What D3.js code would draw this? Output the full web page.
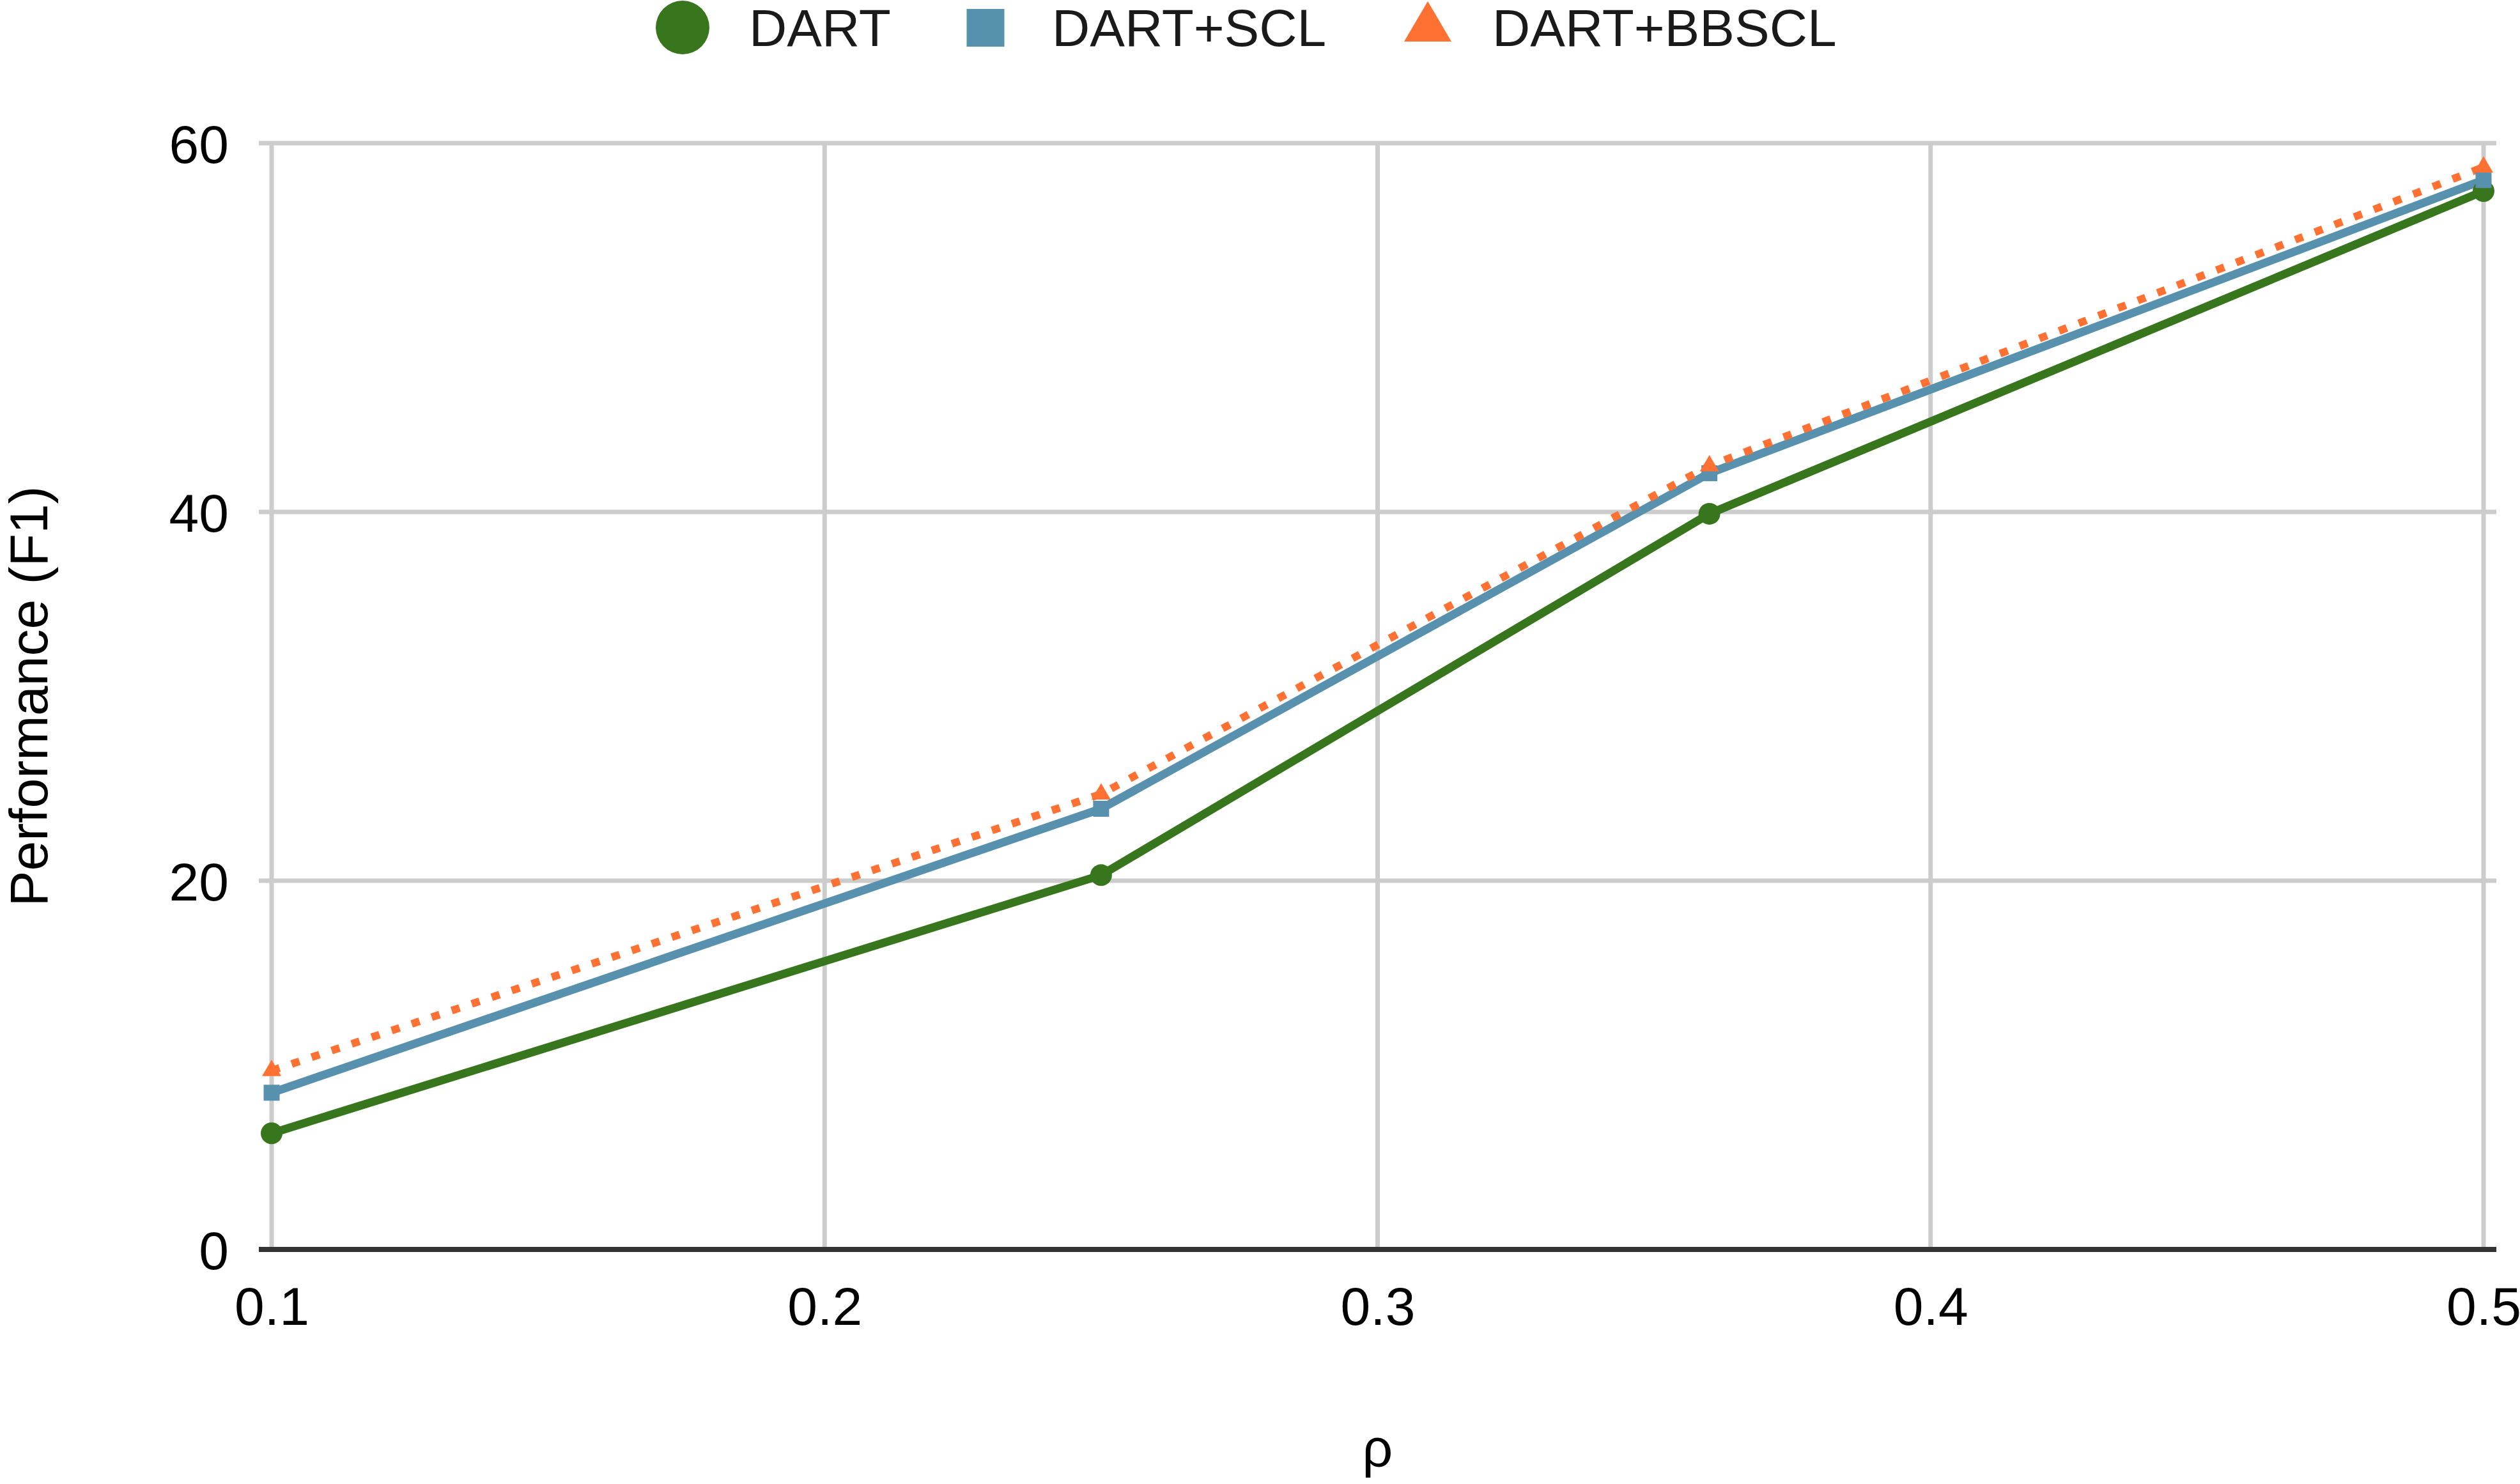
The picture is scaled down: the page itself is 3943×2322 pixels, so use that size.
<!DOCTYPE html>
<html>
<head>
<meta charset="utf-8">
<script src="https://cdn.jsdelivr.net/npm/d3@7"></script>
<style>
  html, body { margin: 0; padding: 0; background: #fff; }
  svg { display: block; font-family: "Liberation Sans", Arial, sans-serif; }
</style>
</head>
<body>
<div id="chart"></div>
<script>
// data
const rho = [0.1, 0.25, 0.36, 0.5];
const dart = [6.3, 20.3, 39.9, 57.4];
const dartScl = [8.5, 23.9, 42.1, 58.0];
const dartBbscl = [9.7, 24.7, 42.5, 58.7];
const seriesNames = ["DART", "DART+SCL", "DART+BBSCL"];
const xTicks = [0.1, 0.2, 0.3, 0.4, 0.5];
const yTicks = [0, 20, 40, 60];

const svgWidth = 3943, svgHeight = 2322;
const colors = ["#38761d", "#5891ad", "#ff7033"];

let svg = d3.select("#chart").append("svg")
    .attr("width", svgWidth)
    .attr("height", svgHeight);

let xScale = d3.scaleLinear().domain([0.1, 0.5]).range([425, 3886]);
let yScale = d3.scaleLinear().domain([0, 60]).range([1955, 224]);
const gridPad = 20;

// horizontal gridlines
svg.append("g").selectAll("line")
    .data(yTicks.filter(d => d !== 0))
    .join("line")
    .attr("x1", xScale.range()[0] - gridPad)
    .attr("x2", xScale.range()[1] + gridPad)
    .attr("y1", d => yScale(d))
    .attr("y2", d => yScale(d))
    .attr("stroke", "#cccccc")
    .attr("stroke-width", 7);

// vertical gridlines
svg.append("g").selectAll("line")
    .data(xTicks)
    .join("line")
    .attr("x1", d => xScale(d))
    .attr("x2", d => xScale(d))
    .attr("y1", yScale(60))
    .attr("y2", yScale(0))
    .attr("stroke", "#cccccc")
    .attr("stroke-width", 7);

// baseline
svg.append("line")
    .attr("x1", xScale.range()[0] - gridPad)
    .attr("x2", xScale.range()[1] + gridPad)
    .attr("y1", yScale(0))
    .attr("y2", yScale(0))
    .attr("stroke", "#333333")
    .attr("stroke-width", 8);

// axes (labels only)
let xAxis = svg.append("g")
    .attr("transform", `translate(0, ${yScale(0)})`)
    .call(d3.axisBottom(xScale).tickValues(xTicks).tickSize(0).tickPadding(0).tickFormat(d3.format(".1f")));
xAxis.select(".domain").remove();
xAxis.selectAll("text")
    .attr("y", 118)
    .attr("dy", null)
    .attr("font-size", 84)
    .attr("font-family", "Liberation Sans, Arial, sans-serif")
    .attr("fill", "#000");

let yAxis = svg.append("g")
    .attr("transform", `translate(${xScale.range()[0] - 67}, 0)`)
    .call(d3.axisLeft(yScale).tickValues(yTicks).tickSize(0).tickPadding(0).tickFormat(d3.format("d")));
yAxis.select(".domain").remove();
yAxis.selectAll("text")
    .attr("x", 0)
    .attr("dy", "0.36em")
    .attr("font-size", 84)
    .attr("font-family", "Liberation Sans, Arial, sans-serif")
    .attr("fill", "#000");

// axis titles
svg.append("text")
    .attr("transform", `translate(74, ${(yScale(0) + yScale(60)) / 2}) rotate(-90)`)
    .attr("text-anchor", "middle")
    .attr("font-size", 84)
    .attr("fill", "#000")
    .text("Performance (F1)");

svg.append("text")
    .attr("x", (xScale.range()[0] + xScale.range()[1]) / 2)
    .attr("y", 2295)
    .attr("text-anchor", "middle")
    .attr("font-size", 84)
    .attr("fill", "#000")
    .text("ρ");

// lines
let line = d3.line()
    .x((d, i) => xScale(rho[i]))
    .y(d => yScale(d));

svg.append("path")
    .datum(dart)
    .attr("d", line)
    .attr("fill", "none")
    .attr("stroke", colors[0])
    .attr("stroke-width", 13);

svg.append("path")
    .datum(dartScl)
    .attr("d", line)
    .attr("fill", "none")
    .attr("stroke", colors[1])
    .attr("stroke-width", 13);

svg.append("path")
    .datum(dartBbscl)
    .attr("d", line)
    .attr("fill", "none")
    .attr("stroke", colors[2])
    .attr("stroke-width", 12)
    .attr("stroke-dasharray", "13,20");

// markers
svg.append("g").selectAll("circle")
    .data(dart)
    .join("circle")
    .attr("cx", (d, i) => xScale(rho[i]))
    .attr("cy", d => yScale(d))
    .attr("r", 17)
    .attr("fill", colors[0]);

svg.append("g").selectAll("path")
    .data(dartScl)
    .join("path")
    .attr("transform", (d, i) => `translate(${xScale(rho[i])}, ${yScale(d)})`)
    .attr("d", d3.symbol(d3.symbolSquare, 25 * 25))
    .attr("fill", colors[1]);

svg.append("g").selectAll("path")
    .data(dartBbscl)
    .join("path")
    .attr("transform", (d, i) => `translate(${xScale(rho[i])}, ${yScale(d)})`)
    .attr("d", "M0,-17L15,8.5L-15,8.5Z")
    .attr("fill", colors[2]);

// legend
const legendMarkerX = [1068, 1542, 2234];
const legendTextX = [1172, 1646, 2335];
let legend = svg.append("g");
legend.append("circle")
    .attr("cx", legendMarkerX[0]).attr("cy", 43).attr("r", 42)
    .attr("fill", colors[0]);
legend.append("rect")
    .attr("x", legendMarkerX[1] - 29.5).attr("y", 14).attr("width", 59).attr("height", 59)
    .attr("fill", colors[1]);
legend.append("path")
    .attr("transform", `translate(${legendMarkerX[2]}, 0)`)
    .attr("d", "M0,2L37,65L-37,65Z")
    .attr("fill", colors[2]);
legend.selectAll("text")
    .data(seriesNames)
    .join("text")
    .attr("x", (d, i) => legendTextX[i])
    .attr("y", 72)
    .attr("font-size", 82)
    .attr("fill", "#1a1a1a")
    .text(d => d);
</script>
</body>
</html>
